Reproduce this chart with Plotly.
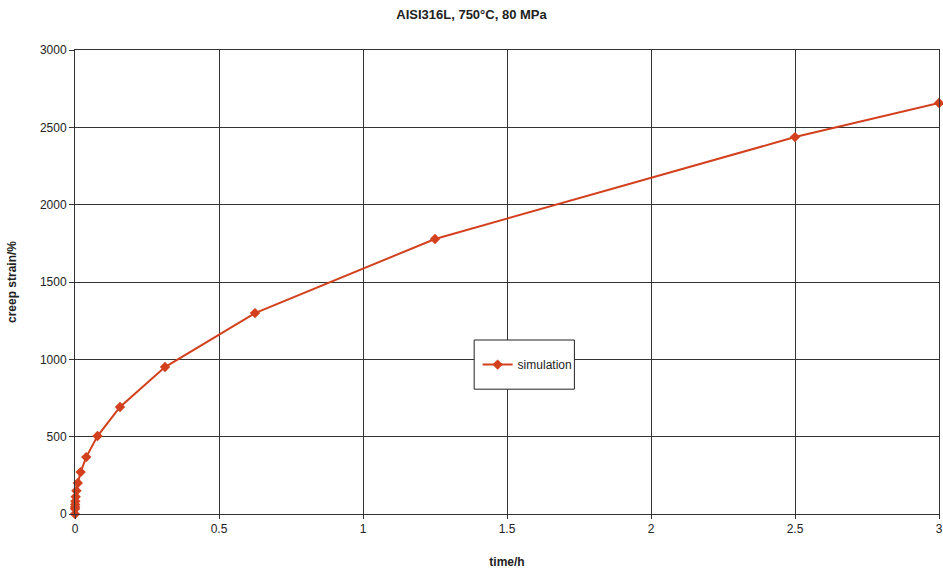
import plotly.graph_objects as go

# Simulated creep curve, AISI316L at 750 °C and 80 MPa
time_h = [0, 0.000153, 0.000305, 0.00061, 0.00122, 0.00244, 0.00488, 0.00977,
          0.01953, 0.0390625, 0.078125, 0.15625, 0.3125, 0.625, 1.25, 2.5, 3.0]
creep_strain = [0, 34, 46, 62, 83, 112, 150, 200,
                271, 368, 504, 692, 950, 1299, 1778, 2437, 2657]

x_ticks = [0, 0.5, 1, 1.5, 2, 2.5, 3]
x_tick_text = ["0", "0.5", "1", "1.5", "2", "2.5", "3"]
y_ticks = [0, 500, 1000, 1500, 2000, 2500, 3000]

line_color = "#D2401E"
grid_color = "#333333"
font_family = "Liberation Sans, Arial, sans-serif"

fig = go.Figure()
fig.add_trace(go.Scatter(
    x=time_h, y=creep_strain, mode="lines+markers", name="simulation",
    line=dict(color=line_color, width=2),
    marker=dict(symbol="diamond", size=8, color=line_color),
    cliponaxis=False,
))

# framed box behind the legend entry
fig.add_shape(type="rect", xref="x domain", yref="y domain",
              x0=0.462, x1=0.578, y0=0.269, y1=0.375,
              line=dict(color="#222222", width=1), fillcolor="white",
              layer="above")

fig.update_layout(
    width=943, height=572,
    margin=dict(l=75, r=4, t=50, b=58),
    paper_bgcolor="white", plot_bgcolor="white",
    font=dict(family=font_family, size=12, color="#222222"),
    title=dict(text="<b>AISI316L, 750°C, 80 MPa</b>", x=0.5, xanchor="center",
               y=0.975, yanchor="middle", font=dict(size=13, color="#222222")),
    showlegend=True,
    legend=dict(x=0.466, y=0.322, xanchor="left", yanchor="middle",
                bgcolor="rgba(0,0,0,0)", borderwidth=0,
                font=dict(size=12, color="#222222"),
                itemwidth=30, tracegroupgap=0),
)

fig.update_xaxes(
    range=[0, 3], tickvals=x_ticks, ticktext=x_tick_text, automargin=False,
    showgrid=True, gridcolor=grid_color, gridwidth=1,
    showline=True, linecolor=grid_color, linewidth=1, mirror=True,
    ticks="outside", ticklen=4, tickcolor=grid_color,
    zeroline=False, tickfont=dict(size=12),
    title=dict(text="<b>time/h</b>", font=dict(size=12), standoff=22),
)
fig.update_yaxes(
    range=[0, 3000], tickvals=y_ticks,
    showgrid=True, gridcolor=grid_color, gridwidth=1,
    showline=True, linecolor=grid_color, linewidth=1, mirror=True,
    ticks="outside", ticklen=5, tickcolor=grid_color,
    zeroline=False, tickfont=dict(size=12),
    title=dict(text="<b>creep strain/%</b>", font=dict(size=12), standoff=20),
)

fig.write_html("out.html")
